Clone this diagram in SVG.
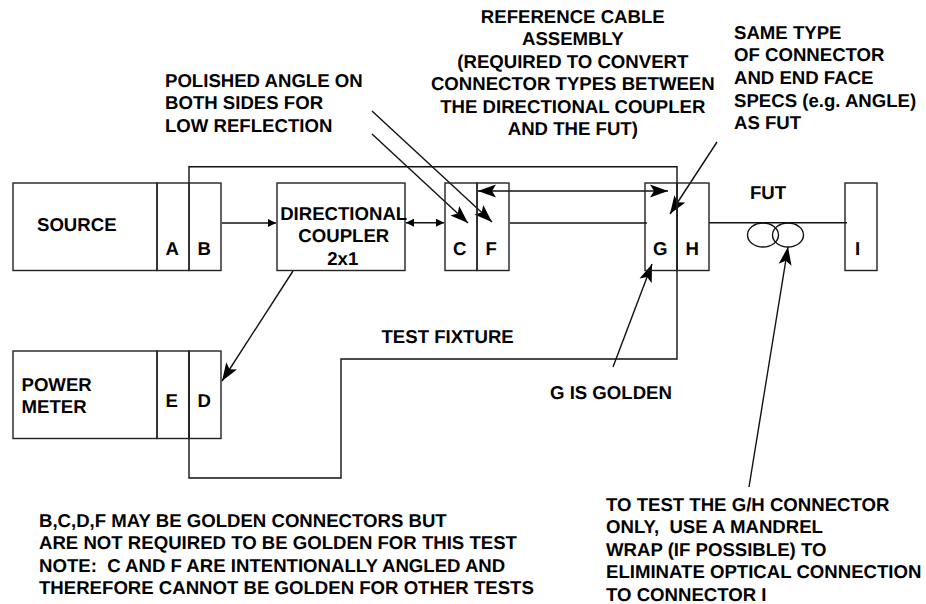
<svg xmlns="http://www.w3.org/2000/svg" width="926" height="604" viewBox="0 0 926 604">
<style>
text{font-family:"Liberation Sans",Arial,sans-serif;font-weight:bold;font-size:18.6px;fill:#000;text-rendering:geometricPrecision}
.m{text-anchor:middle}
.b{fill:none;stroke:#222;stroke-width:1.4}
.c{fill:none;stroke:#111;stroke-width:1.4}
.a{marker-end:url(#m)}
.s{marker-start:url(#ms);marker-end:url(#m)}
.t{marker-end:url(#t)}
.u{marker-start:url(#ts);marker-end:url(#t)}
</style>
<defs>
<marker id="m" markerUnits="userSpaceOnUse" markerWidth="20" markerHeight="14" refX="18" refY="7" orient="auto"><path d="M0 0.500L18 7L0 13.500L4 7z" fill="#000"/></marker>
<marker id="ms" markerUnits="userSpaceOnUse" markerWidth="20" markerHeight="14" refX="0" refY="7" orient="auto"><path d="M18 0.500L0 7L18 13.500L14 7z" fill="#000"/></marker>
<marker id="t" markerUnits="userSpaceOnUse" markerWidth="10" markerHeight="10" refX="8" refY="4" orient="auto"><path d="M0 0L8 4L0 8z" fill="#000"/></marker>
<marker id="ts" markerUnits="userSpaceOnUse" markerWidth="10" markerHeight="10" refX="0" refY="4" orient="auto"><path d="M8 0L0 4L8 8z" fill="#000"/></marker>
</defs>
<rect width="926" height="604" fill="#fff"/>
<g id="connectors">
<path class="c" d="M189 183V166.700H677V359H341V478H189V351"/>
<path class="c t" d="M222 223H276"/>
<path class="c u" d="M406 222.700H444"/>
<path class="c" d="M510 223H647"/>
<path class="c s" d="M478 191H668"/>
<path class="c" d="M709 222.700H847"/>
<ellipse class="c" cx="763" cy="235" rx="15.500" ry="12"/>
<ellipse class="c" cx="788" cy="235" rx="15.500" ry="12"/>
<path class="c a" d="M293 271L222 381"/>
<path class="c a" d="M372 134L468 223"/>
<path class="c a" d="M372 111L492 222"/>
<path class="c a" d="M717 142L670 214"/>
<path class="c a" d="M613 367L652 264"/>
<path class="c a" d="M749 487L788 247"/>
</g>
<g id="source"><rect class="b" x="13" y="183" width="144" height="87.500"/><text x="37" y="230.500">SOURCE</text></g>
<g id="a"><rect class="b" x="157" y="183" width="32" height="87.500"/><text x="165.500" y="255">A</text></g>
<g id="b"><rect class="b" x="189" y="183" width="32" height="87.500"/><text x="197.500" y="255">B</text></g>
<g id="coupler"><rect class="b" x="277" y="183" width="128" height="87.500"/><text class="m" x="343.700" y="219.500">DIRECTIONAL</text><text class="m" x="343.800" y="241.700">COUPLER</text><text class="m" x="342.800" y="265">2x1</text></g>
<g id="c"><rect class="b" x="445" y="183" width="32" height="87.500"/><text x="453" y="255">C</text></g>
<g id="f"><rect class="b" x="477" y="183" width="32" height="87.500"/><text x="485.500" y="255">F</text></g>
<g id="g"><rect class="b" x="645" y="183" width="32" height="87.500"/><text x="653" y="255">G</text></g>
<g id="h"><rect class="b" x="677" y="183" width="32" height="87.500"/><text x="685.500" y="255">H</text></g>
<g id="i"><rect class="b" x="845" y="183" width="32" height="87.500"/><text x="855" y="255">I</text></g>
<g id="power"><rect class="b" x="13" y="351" width="144" height="87.500"/><text x="21.500" y="391">POWER</text><text x="21.500" y="413">METER</text></g>
<g id="e"><rect class="b" x="157" y="351" width="32" height="87.500"/><text x="165.500" y="406.500">E</text></g>
<g id="d"><rect class="b" x="189" y="351" width="32" height="87.500"/><text x="197.500" y="406.500">D</text></g>
<g id="labels">
<text x="165" y="87">POLISHED ANGLE ON</text><text x="165" y="109">BOTH SIDES FOR</text><text x="165" y="132">LOW REFLECTION</text>
<text class="m" x="572.800" y="22.700">REFERENCE CABLE</text><text class="m" x="572.800" y="44.700">ASSEMBLY</text><text class="m" x="572.800" y="68">(REQUIRED TO CONVERT</text><text class="m" x="572.800" y="90">CONNECTOR TYPES BETWEEN</text><text class="m" x="572.800" y="113">THE DIRECTIONAL COUPLER</text><text class="m" x="572.800" y="135">AND THE FUT)</text>
<text x="734" y="39.300">SAME TYPE</text><text x="734" y="61.300">OF CONNECTOR</text><text x="734" y="84">AND END FACE</text><text x="734" y="106.700">SPECS (e.g. ANGLE)</text><text x="734" y="129">AS FUT</text>
<text x="750" y="199">FUT</text><text x="381.500" y="342.700">TEST FIXTURE</text><text x="550" y="399.300">G IS GOLDEN</text>
<text x="39" y="527.300" xml:space="preserve">B,C,D,F MAY BE GOLDEN CONNECTORS BUT</text><text x="39" y="549.300">ARE NOT REQUIRED TO BE GOLDEN FOR THIS TEST</text><text x="39" y="572" xml:space="preserve">NOTE:  C AND F ARE INTENTIONALLY ANGLED AND</text><text x="39" y="594">THEREFORE CANNOT BE GOLDEN FOR OTHER TESTS</text>
<text x="606" y="510.700">TO TEST THE G/H CONNECTOR</text><text x="606" y="533.300" xml:space="preserve">ONLY,  USE A MANDREL</text><text x="606" y="556">WRAP (IF POSSIBLE) TO</text><text x="606" y="578.300">ELIMINATE OPTICAL CONNECTION</text><text x="606" y="601">TO CONNECTOR I</text>
</g>
</svg>
